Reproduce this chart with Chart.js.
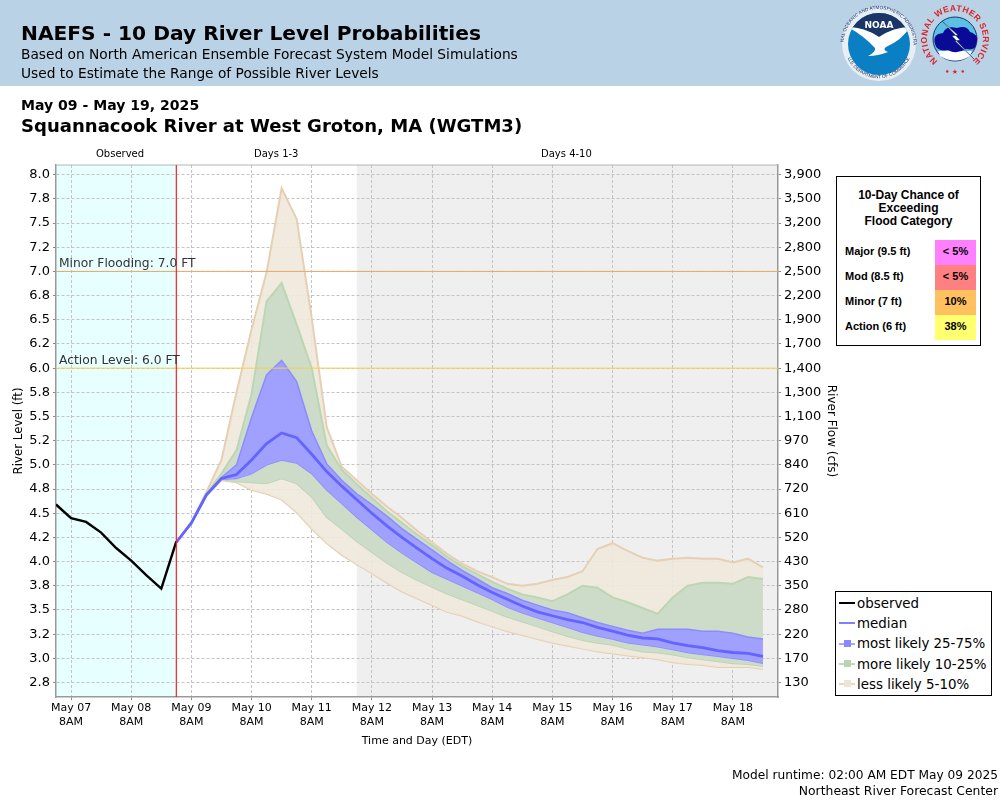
<!DOCTYPE html>
<html>
<head>
<meta charset="utf-8">
<title>NAEFS - 10 Day River Level Probabilities</title>
<script src="https://cdn.jsdelivr.net/npm/chart.js@4"></script>
<style>
  html, body { margin: 0; padding: 0; background: #fff; }
  #page { position: relative; width: 1000px; height: 800px; overflow: hidden; font-family: "DejaVu Sans", sans-serif; color: #000; }
  #page canvas { position: absolute; left: 0; top: 0; }
  .txt { position: absolute; white-space: nowrap; line-height: 1; }
  #banner { position: absolute; left: 0; top: 0; width: 1000px; height: 86px; background: #bad2e5; }
  #floodBox { position: absolute; left: 836px; top: 176px; width: 143px; height: 168px; border: 1px solid #000; background: #fff; font-family: "Liberation Sans", sans-serif; font-weight: bold; font-size: 11px; }
  #floodBox .head { position: absolute; left: 0; top: 12px; width: 100%; text-align: center; font-size: 12px; line-height: 13px; }
  #floodBox .name { position: absolute; left: 8px; line-height: 23px; }
  #floodBox .cell { position: absolute; left: 98px; width: 41px; height: 25px; line-height: 22px; text-align: center; }
  #legendBox { position: absolute; left: 835px; top: 591px; width: 155px; height: 103px; border: 1px solid #000; background: #fff; font-size: 13.4px; }
  #legendBox .row { position: absolute; left: 21px; line-height: 20px; white-space: nowrap; }
  #legendBox .ln { position: absolute; left: 3px; width: 16px; height: 2px; }
  #legendBox .sq { position: absolute; left: 7.5px; width: 7px; height: 7px; }
</style>
</head>
<body>
<div id="page">
  <div id="banner"></div>
  <canvas id="riverChart" width="1000" height="800"></canvas>

  <div class="txt" style="left:21px;top:23px;font-size:20.2px;font-weight:bold;">NAEFS - 10 Day River Level Probabilities</div>
  <div class="txt" style="left:21px;top:48px;font-size:13.76px;">Based on North American Ensemble Forecast System Model Simulations</div>
  <div class="txt" style="left:21px;top:67px;font-size:13.76px;">Used to Estimate the Range of Possible River Levels</div>
  <div class="txt" style="left:21px;top:98px;font-size:14.05px;font-weight:bold;">May 09 - May 19, 2025</div>
  <div class="txt" style="left:21px;top:117px;font-size:18.06px;font-weight:bold;">Squannacook River at West Groton, MA (WGTM3)</div>

  <div class="txt" style="left:96px;top:149px;font-size:10px;">Observed</div>
  <div class="txt" style="left:254px;top:149px;font-size:10px;">Days 1-3</div>
  <div class="txt" style="left:541px;top:149px;font-size:10px;">Days 4-10</div>

  <div class="txt" style="left:59px;top:257px;font-size:12.3px;color:#333;">Minor Flooding: 7.0 FT</div>
  <div class="txt" style="left:59px;top:354px;font-size:12.3px;color:#333;">Action Level: 6.0 FT</div>

  <div id="floodBox">
    <div class="head">10-Day Chance of<br>Exceeding<br>Flood Category</div>
    <div class="name" style="top:63px;">Major (9.5 ft)</div>
    <div class="cell" style="top:63px;background:#ff80ff;">&lt; 5%</div>
    <div class="name" style="top:88px;">Mod (8.5 ft)</div>
    <div class="cell" style="top:88px;background:#ff8080;">&lt; 5%</div>
    <div class="name" style="top:113px;">Minor (7 ft)</div>
    <div class="cell" style="top:113px;background:#ffc060;">10%</div>
    <div class="name" style="top:138px;">Action (6 ft)</div>
    <div class="cell" style="top:138px;background:#ffff70;">38%</div>
  </div>

  <div id="legendBox">
    <div class="ln" style="top:10px;background:#000;"></div>
    <div class="row" style="top:2px;">observed</div>
    <div class="ln" style="top:30px;background:#8080ff;"></div>
    <div class="row" style="top:22px;">median</div>
    <div class="ln" style="top:51px;background:#a8a8ff;"></div><div class="sq" style="top:48px;background:#8888ff;"></div>
    <div class="row" style="top:42px;">most likely 25-75%</div>
    <div class="ln" style="top:71px;background:#c0d8b8;"></div><div class="sq" style="top:68px;background:#b8d4b0;"></div>
    <div class="row" style="top:63px;">more likely 10-25%</div>
    <div class="ln" style="top:91px;background:#ecd8c0;"></div><div class="sq" style="top:88px;background:#f0e4d4;border:0;"></div>
    <div class="row" style="top:83px;">less likely 5-10%</div>
  </div>

  <div class="txt" style="right:2px;top:769px;font-size:12.2px;">Model runtime: 02:00 AM EDT May 09 2025</div>
  <div class="txt" style="right:2px;top:785px;font-size:12.4px;">Northeast River Forecast Center</div>

  <!-- logos -->
  <svg style="position:absolute;left:830px;top:0;" width="170" height="86" viewBox="0 0 170 86">
    <defs>
      <path id="noaaRing" d="M 13.5 44 A 35 35 0 0 1 83.5 44"></path>
      <path id="noaaRingLow" d="M 15 50 A 34 34 0 0 0 82 50"></path>
      <path id="nwsRing" d="M 113.2 64.4 A 28 28 0 1 1 136.8 64.4"></path>
      <clipPath id="noaaClip"><circle cx="49" cy="44" r="31"></circle></clipPath>
    </defs>
    <circle cx="49" cy="44" r="37" fill="#e9eef2"></circle>
    <circle cx="49" cy="44" r="31" fill="#0a7fc4"></circle>
    <g clip-path="url(#noaaClip)">
      <path d="M 18 27 Q 34 27 49 37 Q 64 27 80 27 V 10 H 18 Z" fill="#1b3567"></path>
      <path d="M 18 27 Q 34 27 49 37 Q 64 27 80 27 Q 72 40 56 47 Q 52 50 58 52 Q 48 56 38 56 Q 46 52 45 48 Q 34 36 18 27 Z" fill="#fff"></path>
    </g>
    <text x="49" y="28" text-anchor="middle" font-family="DejaVu Sans" font-weight="bold" font-size="9" fill="#fff">NOAA</text>
    <text font-family="Liberation Sans" font-size="4.6" fill="#1b3567" letter-spacing=".1"><textPath href="#noaaRing" startOffset="50%" text-anchor="middle">NATIONAL OCEANIC AND ATMOSPHERIC ADMINISTRATION</textPath></text>
    <text font-family="Liberation Sans" font-size="4.6" fill="#1b3567"><textPath href="#noaaRingLow" startOffset="50%" text-anchor="middle">U.S. DEPARTMENT OF COMMERCE</textPath></text>

    <circle cx="125" cy="39" r="22" fill="#5cc0e4" stroke="#1b3567" stroke-width="1"></circle>
    <path d="M 110 56 Q 125 65 140 56 L 142 51 H 108 Z" fill="#fff"></path>
    <path d="M 105 44 Q 102 34 113 33 Q 116 25 127 28 Q 137 25 140 32 Q 150 35 146 44 Q 146 51 136 49 Q 126 55 118 50 Q 107 52 105 44 Z" fill="#0a0a96"></path>
    <path d="M 112 21 L 128 35 L 122 36 L 144 59 L 125 41 L 130 40 Z" fill="#fff" stroke="#1b3567" stroke-width=".5"></path>
    <text font-family="Liberation Sans" font-weight="bold" font-size="8.6" fill="#d8262c" letter-spacing=".4"><textPath href="#nwsRing" startOffset="50%" text-anchor="middle">NATIONAL WEATHER SERVICE</textPath></text>
    <text x="125" y="74" text-anchor="middle" font-family="DejaVu Sans" font-size="7" font-weight="bold" fill="#d8262c">• ★ •</text>
  </svg>
</div>

<script>
// hours since May 07 2AM
var axisMinHour = 0;
var axisMaxHour = 288;
var nowHour = 48;
var daysStartHour = 120;
var dayTickHours = [6, 30, 54, 78, 102, 126, 150, 174, 198, 222, 246, 270];
var dayTickLabels = ["May 07", "May 08", "May 09", "May 10", "May 11", "May 12", "May 13", "May 14", "May 15", "May 16", "May 17", "May 18"];

var levelTicks = [8, 7.75, 7.5, 7.25, 7, 6.75, 6.5, 6.25, 6, 5.75, 5.5, 5.25, 5, 4.75, 4.5, 4.25, 4, 3.75, 3.5, 3.25, 3, 2.75];
var levelLabels = ["8.0", "7.8", "7.5", "7.2", "7.0", "6.8", "6.5", "6.2", "6.0", "5.8", "5.5", "5.2", "5.0", "4.8", "4.5", "4.2", "4.0", "3.8", "3.5", "3.2", "3.0", "2.8"];
var flowLabels = ["3,900", "3,500", "3,200", "2,800", "2,500", "2,200", "1,900", "1,700", "1,400", "1,300", "1,100", "970", "840", "720", "610", "520", "430", "350", "280", "220", "170", "130"];

var observedHours = [0, 6, 12, 18, 24, 30, 36, 42, 48];
var observed = [4.59, 4.45, 4.41, 4.30, 4.14, 4.01, 3.86, 3.72, 4.21];

var forecastHours = [48, 54, 60, 66, 72, 78, 84, 90, 96, 102, 108, 114, 120, 126, 132, 138, 144, 150, 156, 162, 168, 174, 180, 186, 192, 198, 204, 210, 216, 222, 228, 234, 240, 246, 252, 258, 264, 270, 276, 282];
var median = [4.20, 4.40, 4.69, 4.86, 4.90, 5.05, 5.22, 5.33, 5.28, 5.11, 4.93, 4.78, 4.64, 4.50, 4.37, 4.25, 4.14, 4.03, 3.93, 3.85, 3.76, 3.68, 3.61, 3.54, 3.48, 3.44, 3.40, 3.37, 3.32, 3.28, 3.24, 3.21, 3.20, 3.16, 3.13, 3.11, 3.08, 3.06, 3.05, 3.02];
var p75 = [4.20, 4.40, 4.69, 4.87, 5.00, 5.49, 5.93, 6.08, 5.86, 5.35, 5.01, 4.84, 4.70, 4.59, 4.47, 4.34, 4.23, 4.12, 4.01, 3.91, 3.82, 3.73, 3.67, 3.60, 3.55, 3.50, 3.47, 3.42, 3.37, 3.33, 3.29, 3.26, 3.30, 3.30, 3.30, 3.28, 3.28, 3.26, 3.22, 3.20];
var p25 = [4.20, 4.40, 4.69, 4.85, 4.86, 4.91, 5.00, 5.05, 5.02, 4.91, 4.74, 4.60, 4.46, 4.33, 4.20, 4.09, 3.99, 3.89, 3.82, 3.75, 3.68, 3.61, 3.53, 3.47, 3.42, 3.37, 3.32, 3.27, 3.23, 3.20, 3.16, 3.14, 3.12, 3.09, 3.06, 3.04, 3.02, 3.00, 2.98, 2.95];
var p90 = [4.20, 4.40, 4.70, 4.91, 5.15, 5.73, 6.69, 6.88, 6.45, 6.00, 5.20, 4.95, 4.80, 4.66, 4.52, 4.40, 4.28, 4.17, 4.05, 3.95, 3.87, 3.79, 3.72, 3.66, 3.63, 3.59, 3.66, 3.75, 3.73, 3.63, 3.58, 3.52, 3.46, 3.63, 3.75, 3.78, 3.78, 3.77, 3.84, 3.82];
var p10 = [4.20, 4.40, 4.68, 4.85, 4.83, 4.82, 4.81, 4.86, 4.81, 4.67, 4.46, 4.34, 4.21, 4.10, 3.99, 3.89, 3.81, 3.74, 3.67, 3.61, 3.55, 3.49, 3.43, 3.38, 3.33, 3.28, 3.23, 3.19, 3.16, 3.14, 3.10, 3.07, 3.06, 3.04, 3.01, 2.99, 2.97, 2.95, 2.94, 2.92];
var p95 = [4.20, 4.40, 4.72, 5.05, 5.75, 6.40, 6.99, 7.86, 7.54, 6.52, 5.39, 4.98, 4.84, 4.70, 4.57, 4.45, 4.32, 4.20, 4.08, 3.98, 3.90, 3.84, 3.77, 3.75, 3.77, 3.81, 3.84, 3.90, 4.13, 4.19, 4.11, 4.04, 4.01, 4.03, 4.04, 4.03, 4.03, 3.99, 4.03, 3.94];
var p5 = [4.20, 4.40, 4.68, 4.84, 4.82, 4.74, 4.70, 4.64, 4.51, 4.34, 4.19, 4.07, 3.97, 3.88, 3.78, 3.69, 3.62, 3.55, 3.48, 3.44, 3.38, 3.33, 3.28, 3.24, 3.20, 3.16, 3.13, 3.10, 3.07, 3.05, 3.03, 3.01, 2.99, 2.96, 2.94, 2.93, 2.91, 2.91, 2.91, 2.89];

var minorLevel = 7;
var actionLevel = 6;
var yMin = 2.6;
var yMax = 8.1;

function toPoints(hours, values) {
  return hours.map((h, i) => ({ x: h, y: values[i] }));
}

function lineSet(label, hours, values, color, width, fill, fillColor) {
  return {
    label: label,
    data: toPoints(hours, values),
    borderColor: color,
    borderWidth: width,
    pointRadius: 0,
    tension: 0,
    fill: fill || false,
    backgroundColor: fillColor || "transparent"
  };
}

// shaded periods and the light top edge of the plot
var periodShading = {
  id: "periodShading",
  beforeDatasetsDraw: function (chart) {
    var a = chart.chartArea;
    var ctx = chart.ctx;
    ctx.save();
    ctx.strokeStyle = "#b4b4b4";
    ctx.lineWidth = 1;
    ctx.beginPath();
    ctx.moveTo(a.left, a.top);
    ctx.lineTo(a.right, a.top);
    ctx.stroke();
    ctx.restore();
  },
  beforeDraw: function (chart) {
    var a = chart.chartArea;
    var xs = chart.scales.x;
    var ctx = chart.ctx;
    var nowX = xs.getPixelForValue(nowHour);
    var daysX = xs.getPixelForValue(daysStartHour);
    ctx.save();
    ctx.fillStyle = "#e8ffff";
    ctx.fillRect(a.left, a.top, nowX - a.left, a.bottom - a.top);
    ctx.fillStyle = "#efefef";
    ctx.fillRect(daysX, a.top, a.right - daysX, a.bottom - a.top);
    ctx.restore();
  }
};

var gridOpts = { color: "#c4c4c4", tickColor: "#888888", tickLength: 3, tickBorderDash: [] };
var borderOpts = { color: "#999999", width: 1.5, dash: [3, 2] };
var tickFont = { family: "DejaVu Sans", size: 13 };

var ctx = document.getElementById("riverChart");
var riverChart = new Chart(ctx, {
  type: "line",
  data: {
    datasets: [
      lineSet("now", [nowHour, nowHour], [yMin, yMax], "#ff2020", 1.2),
      lineSet("observed", observedHours, observed, "#000000", 2.4),
      lineSet("median", forecastHours, median, "#6464ff", 2.8),
      lineSet("Minor Flooding", [axisMinHour, axisMaxHour], [minorLevel, minorLevel], "#e8a868", 1),
      lineSet("Action Level", [axisMinHour, axisMaxHour], [actionLevel, actionLevel], "#f4d050", 1),
      lineSet("most likely 25-75%", forecastHours, p75, "#8c8cff", 1.5, "+1", "#a0a0ff"),
      lineSet("p25", forecastHours, p25, "#8c8cff", 1.5),
      lineSet("more likely 10-25%", forecastHours, p90, "#bcd6b4", 2, "+1", "#ccdcc8"),
      lineSet("p10", forecastHours, p10, "#bcd6b4", 2),
      lineSet("less likely 5-10%", forecastHours, p95, "#e6d0b4", 2, "+1", "rgba(240,232,220,0.9)"),
      lineSet("p5", forecastHours, p5, "#e6d0b4", 2)
    ]
  },
  options: {
    responsive: false,
    animation: false,
    layout: { padding: { top: 165, left: 0, right: 162, bottom: 52 } },
    plugins: { legend: { display: false }, title: { display: false }, tooltip: { enabled: false } },
    scales: {
      x: {
        type: "linear",
        min: axisMinHour,
        max: axisMaxHour,
        afterBuildTicks: function (axis) { axis.ticks = dayTickHours.map((h) => ({ value: h })); },
        afterFit: function (axis) { axis.height = 51; },
        grid: gridOpts,
        border: borderOpts,
        ticks: {
          autoSkip: false,
          maxRotation: 0,
          padding: 2,
          color: "#000",
          font: { family: "DejaVu Sans", size: 11 },
          callback: function (value) { return [dayTickLabels[dayTickHours.indexOf(value)], "8AM"]; }
        },
        title: { display: true, text: "Time and Day (EDT)", color: "#000", font: { family: "DejaVu Sans", size: 11 }, padding: 0 }
      },
      y: {
        position: "left",
        min: yMin,
        max: yMax,
        afterBuildTicks: function (axis) { axis.ticks = levelTicks.map((v) => ({ value: v })); },
        afterFit: function (axis) { axis.width = 56; },
        grid: gridOpts,
        border: borderOpts,
        ticks: {
          autoSkip: false,
          padding: 3,
          color: "#000",
          font: tickFont,
          callback: function (value) { return levelLabels[levelTicks.indexOf(value)]; }
        },
        title: { display: true, text: "River Level (ft)", color: "#000", font: { family: "DejaVu Sans", size: 11.8 }, padding: { top: 12, bottom: 0 } }
      },
      yFlow: {
        position: "right",
        min: yMin,
        max: yMax,
        afterBuildTicks: function (axis) { axis.ticks = levelTicks.map((v) => ({ value: v })); },
        afterFit: function (axis) { axis.width = 60; },
        grid: { drawOnChartArea: false, color: "#888888", tickLength: 3, tickBorderDash: [] },
        border: { color: "#999999", width: 1.5 },
        ticks: {
          autoSkip: false,
          padding: 3,
          color: "#000",
          font: tickFont,
          callback: function (value) { return flowLabels[levelTicks.indexOf(value)]; }
        },
        title: { display: true, text: "River Flow (cfs)", color: "#000", font: { family: "DejaVu Sans", size: 12 }, padding: 0 }
      }
    }
  },
  plugins: [periodShading]
});
</script>
</body>
</html>
